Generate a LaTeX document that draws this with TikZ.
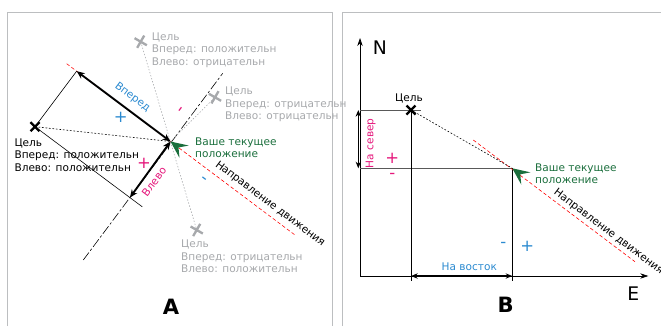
\documentclass[tikz,border=0pt]{standalone}
\usepackage{fontspec}
\setmainfont{DejaVu Sans}
\usetikzlibrary{arrows.meta,calc}
\definecolor{inkgray}{HTML}{A7A9AC}
\definecolor{framegray}{HTML}{BCBEC0}
\definecolor{fwdblue}{HTML}{2B8AD0}
\definecolor{leftpink}{HTML}{E5177B}
\definecolor{posgreen}{HTML}{1A6E3C}
\tikzset{lbl/.style={inner sep=0pt,align=left,anchor=north west,
    font=\fontsize{9}{10.7}\selectfont},
  frame/.style={draw=framegray,line width=0.8pt},
  dirline/.style={red,line width=0.5pt,dash pattern=on 3pt off 2pt},
  sideline/.style={line width=0.5pt,dash pattern=on 8pt off 2pt on 2pt off 2pt},
  sight/.style={line width=0.5pt,dash pattern=on 1.5pt off 1.5pt},
  graysight/.style={inkgray,line width=0.5pt,dash pattern=on 1.2pt off 1.5pt},
  measure/.style={{Stealth[length=2.4mm,width=2mm]}-{Stealth[length=2.4mm,width=2mm]},line width=1.6pt},
  thinmeasure/.style={{Stealth[length=2mm,width=1.6mm]}-{Stealth[length=2mm,width=1.6mm]},line width=1.1pt},
  axis/.style={-{Stealth[length=2.4mm,width=1.6mm]},line width=0.6pt},
  sign/.style={inner sep=0pt,font=\fontsize{14}{14}\selectfont},
  panel/.style={font=\fontsize{18}{18}\selectfont\bfseries},
  tgtmark/.pic={\draw[line width=2pt] (-4.5,-4.5) -- (4.5,4.5) (-4.5,4.5) -- (4.5,-4.5);},
  graymark/.pic={\draw[inkgray,line width=2pt,rotate=15] (-5,-5) -- (5,5) (-5,5) -- (5,-5);}}

\begin{document}
\begin{tikzpicture}[x=0.03cm,y=-0.03cm]
\useasboundingbox (0,0) rectangle (661,326);
% panel frames
\draw[frame] (7,326) -- (7,12) -- (332,12) -- (332,326);
\draw[frame] (342,326) -- (342,12) -- (661,12);

% ---- A: relative to heading ----
\coordinate (pA) at (170.5,141.5);
\coordinate (tgt) at (35,126.7);
\coordinate (dirS) at (66.7,63.7);
\coordinate (dirE) at (295,235);
\coordinate (sideS) at (83.3,260);
\coordinate (sideE) at (222.7,73.3);
\coordinate (fw) at ($(dirS)!(tgt)!(dirE)$);
\coordinate (lf) at ($(sideS)!(tgt)!(sideE)$);
\coordinate (gA) at (140.7,41.7);
\coordinate (gB) at (215,97.3);
\coordinate (gC) at (196.7,230);

\draw[dirline] (dirS) -- (dirE);
\draw[sideline] (sideS) -- (sideE);
\draw[graysight] (gA) -- (gC);
\draw[graysight] (pA) -- (gB);
\draw[sight] (tgt) -- (pA);
\draw[line width=0.5pt] (tgt) -- (fw);
\draw[line width=0.5pt] (tgt) -- ($(tgt)!1.13!(lf)$);
\draw[measure] (fw) -- (pA);
\draw[measure] (pA) -- (lf);
\fill[posgreen,shift={(pA)},rotate=-36.87] (0,0) -- (17,-7.7) -- (10,0) -- (17,7.7) -- cycle;

\pic at (tgt) {tgtmark};
\pic at (gA) {graymark};
\pic at (gB) {graymark};
\pic at (gC) {graymark};

\node[lbl] (tgtlbl) at (14.3,138.3) {Цель\\Вперед: положительн\\Влево: положительн};
\node[lbl,text=inkgray] (glblA) at (151.7,32.3) {Цель\\Вперед: положительн\\Влево: отрицательн};
\node[lbl,text=inkgray] (glblB) at (225,86.7) {Цель\\Вперед: отрицательн\\Влево: отрицательн};
\node[lbl,text=inkgray] (glblC) at (181,240) {Цель\\Вперед: отрицательн\\Влево: положительн};
\node[lbl,text=posgreen] (posA) at (195,137.3) {Ваше текущее\\положение};

\node[lbl,anchor=center,text=fwdblue,rotate=-36.87] (fwlbl) at (132.5,97.5) {Вперед};
\node[lbl,anchor=center,text=leftpink,rotate=53.13] (lflbl) at (154,181.7) {Влево};
\node[lbl,anchor=center,rotate=-36.87] (dirlblA) at (270,204) {Направление движения};
\node[sign,text=fwdblue] (fwplus) at (120.7,117.3) {+};
\node[sign,text=leftpink] (lfplus) at (144,163.3) {+};
\node[sign,text=leftpink,rotate=53.13] (lfminus) at (182.7,110.7) {-};
\node[sign,text=fwdblue,rotate=-36.87] (fwminus) at (203.3,180) {-};
\node[panel] (panelA) at (171,306.7) {A};

% ---- B: north / east ----
\coordinate (o) at (360,276);
\coordinate (pB) at (512.3,168.3);
\coordinate (tgtB) at (411,110);
\coordinate (dirSB) at (473.3,140);
\coordinate (dirEB) at (635,261.7);

\draw[axis] (o) -- (360,38);
\draw[axis] (o) -- (648.3,276);
\draw[gray!70!black,line width=0.6pt] (360,110) -- (421,110);
\draw[gray!70!black,line width=0.6pt] (360,168.3) -- (pB);
\draw[line width=0.6pt] (tgtB) -- (411,281);
\draw[line width=0.6pt] (pB) -- (512.3,281);
\draw[dirline] (dirSB) -- (dirEB);
\draw[sight] (tgtB) -- (pB);
\draw[thinmeasure] (358.3,110) -- (358.3,168.3);
\draw[thinmeasure] (411,276) -- (512.3,276);
\fill[posgreen,shift={(pB)},rotate=-36.87] (0,0) -- (17,-7.7) -- (10,0) -- (17,7.7) -- cycle;
\pic at (tgtB) {tgtmark};

\node[lbl,anchor=center] (tgtlblB) at (409,98) {Цель};
\node[lbl,text=posgreen] (posB) at (535,163.3) {Ваше текущее\\положение};
\node[lbl,anchor=center,rotate=-36.87] (dirlblB) at (608.6,231.7) {Направление движения};
\node[lbl,anchor=center,text=leftpink,rotate=90] (northlbl) at (370.7,143.3) {На север};
\node[lbl,anchor=center,text=fwdblue] (eastlbl) at (469.3,266.7) {На восток};
\node[sign,text=leftpink] (nplus) at (392.3,158.3) {+};
\node[sign,text=leftpink] (nminus) at (392.3,176) {-};
\node[sign,text=fwdblue] (eminus) at (503.3,245) {-};
\node[sign,text=fwdblue] (eplus) at (527.3,246.7) {+};
\node[font=\fontsize{16}{16}\selectfont] (nlbl) at (380,48) {N};
\node[font=\fontsize{16}{16}\selectfont] (elbl) at (633.3,293.3) {E};
\node[panel] (panelB) at (505.7,305) {B};
\end{tikzpicture}
\end{document}
